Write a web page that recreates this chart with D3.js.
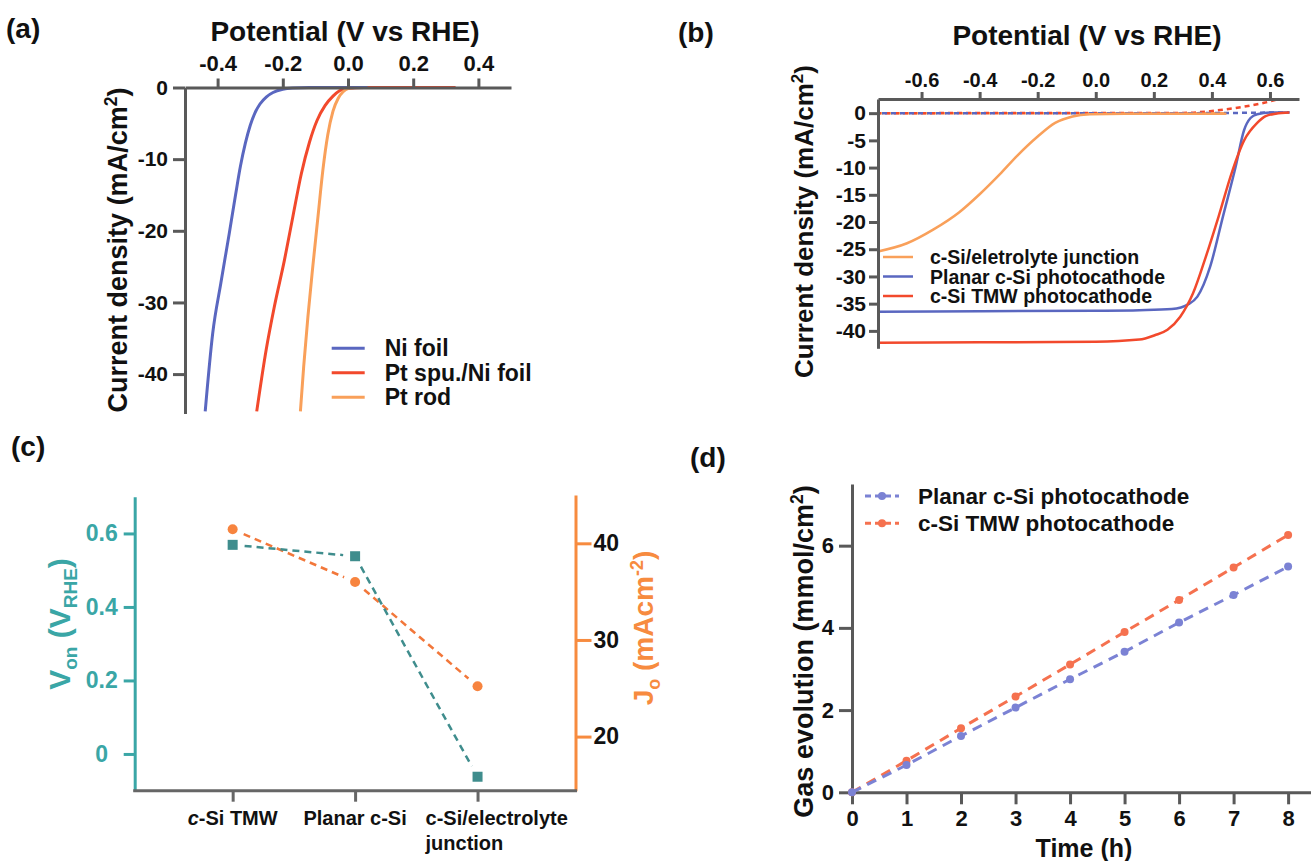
<!DOCTYPE html>
<html>
<head>
<meta charset="utf-8">
<script src="https://cdn.jsdelivr.net/npm/d3@7"></script>
<style>
  body { margin: 0; background: #fff; }
  svg { display: block; }
</style>
</head>
<body>
<div id="chart"></div>
<script>
// ---- data ----
// (a) HER polarisation curves
var niFoilV = [-0.438, -0.415, -0.39, -0.364, -0.345, -0.33, -0.315, -0.3, -0.285, -0.27, -0.25, -0.23, -0.2, -0.17, -0.12, 0.06];
var niFoilJ = [-45.2, -34.3, -27.3, -20.3, -15, -11, -7.8, -5.3, -3.5, -2.3, -1.3, -0.7, -0.25, -0.08, 0, 0];
var ptSpuV = [-0.28, -0.251, -0.226, -0.195, -0.169, -0.143, -0.118, -0.095, -0.07, -0.046, -0.026, 0.0, 0.05, 0.33];
var ptSpuJ = [-45.2, -36.6, -30.6, -24.1, -18, -12, -7.6, -4.6, -2.5, -1.2, -0.45, -0.1, 0, 0];
var ptRodV = [-0.146, -0.136, -0.123, -0.108, -0.092, -0.077, -0.062, -0.046, -0.03, -0.015, 0.0, 0.02];
var ptRodJ = [-45.2, -39, -32, -25, -18, -11.5, -6.6, -3.3, -1.5, -0.6, -0.15, 0];
var aTicksX = [-0.4, -0.2, 0, 0.2, 0.4];
var aTicksY = [0, -10, -20, -30, -40];
var aLegend = ["Ni foil", "Pt spu./Ni foil", "Pt rod"];

// (b) photocathode J-V, light (solid) and dark (dashed)
var junctionV = [-0.75, -0.65, -0.56, -0.47, -0.40, -0.33, -0.27, -0.2, -0.14, -0.08, -0.02, 0.1, 0.45];
var junctionJ = [-25.4, -23.9, -21.4, -18.2, -14.9, -11.2, -7.8, -4.3, -1.8, -0.6, -0.2, -0.1, -0.1];
var planarV = [-0.75, -0.4, 0.0, 0.15, 0.262, 0.321, 0.35, 0.394, 0.438, 0.482, 0.511, 0.533, 0.556, 0.6, 0.667];
var planarJ = [-36.5, -36.4, -36.3, -36.2, -36.0, -35.05, -33.7, -28.2, -19.0, -9.8, -3.1, -0.9, -0.2, 0.1, 0.1];
var tmwV = [-0.75, -0.4, 0.0, 0.15, 0.203, 0.247, 0.291, 0.335, 0.379, 0.423, 0.468, 0.511, 0.556, 0.585, 0.62, 0.667];
var tmwJ = [-42.2, -42.1, -42.0, -41.6, -40.8, -39.8, -37.4, -33.1, -26.4, -19.0, -11.0, -5.0, -1.8, -0.55, -0.1, 0.1];
var darkJunctionV = [-0.75, 0.45];
var darkJunctionJ = [0, 0];
var darkPlanarV = [-0.75, 0.3, 0.667];
var darkPlanarJ = [0, 0, 0.15];
var darkTmwV = [-0.75, 0.3, 0.4, 0.5, 0.58, 0.625];
var darkTmwJ = [0, 0.05, 0.4, 1.1, 1.9, 2.5];
var bTicksX = [-0.6, -0.4, -0.2, 0, 0.2, 0.4, 0.6];
var bTicksY = [0, -5, -10, -15, -20, -25, -30, -35, -40];
var bLegend = ["c-Si/eletrolyte junction", "Planar c-Si photocathode", "c-Si TMW photocathode"];

// (c) onset potential and saturation current
var cCats = ["c-Si TMW", "Planar c-Si", "c-Si/electrolyte junction"];
var vOn = [0.569, 0.538, -0.062];
var jO = [41.45, 36.0, 25.2];
var cTicksLeft = [0, 0.2, 0.4, 0.6];
var cTicksRight = [20, 30, 40];

// (d) gas evolution
var timeH = [0, 1, 2, 3, 4, 5, 6, 7, 8];
var planarGas = [0, 0.664, 1.37, 2.06, 2.75, 3.42, 4.13, 4.80, 5.49];
var tmwGas = [0, 0.77, 1.56, 2.33, 3.11, 3.90, 4.68, 5.47, 6.26];
var dTicksY = [0, 2, 4, 6];
var dLegend = ["Planar c-Si photocathode", "c-Si TMW photocathode"];

// ---- drawing ----
var FONT = "'Liberation Sans', Arial, Helvetica, sans-serif";
var AXIS = "#595959";
var BLUE = "#5a67c0", RED = "#f2492c", ORANGE = "#f9a05a";
var TEAL = "#3aa6a6", TEAL_DARK = "#3f8d8d", CORANGE = "#f78b3f";

var svg = d3.select("#chart").append("svg")
    .attr("width", 1311)
    .attr("height", 861)
    .style("font-family", FONT)
    .style("font-weight", "bold");

svg.append("rect").attr("width", 1311).attr("height", 861).attr("fill", "#fff");

function fmtMinus(f) {
    return function(d) { return f(d).replace("\u2212", "-"); };
}

function styleAxis(g, color, size) {
    g.attr("font-family", FONT).attr("font-weight", "bold").attr("font-size", size)
        .style("color", color);
    g.selectAll(".domain").attr("stroke-width", 3);
    g.selectAll(".tick line").attr("stroke-width", 3);
    return g;
}

function zip(a, b) { return a.map(function(v, i) { return [v, b[i]]; }); }

function label(x, y, txt, size, anchor) {
    return svg.append("text").attr("x", x).attr("y", y)
        .attr("font-size", size).attr("text-anchor", anchor || "start")
        .attr("fill", "#111").text(txt);
}

// unit label "(mA/cm2)"-type with superscript
function rotLabel(x, y, pre, sup, post, size) {
    var t = svg.append("text")
        .attr("transform", "translate(" + x + "," + y + ") rotate(-90)")
        .attr("text-anchor", "middle").attr("font-size", size).attr("fill", "#111");
    t.append("tspan").text(pre);
    t.append("tspan").attr("dy", -size * 0.38).attr("font-size", size * 0.65).text(sup);
    t.append("tspan").attr("dy", size * 0.38).text(post);
    return t;
}

// ===== panel (a) =====
var xA = d3.scaleLinear().domain([-0.5, 0.5]).range([185, 511]);
var yA = d3.scaleLinear().domain([-45.5, 0]).range([413.5, 87.5]);

svg.append("clipPath").attr("id", "clipA").append("rect")
    .attr("x", 185).attr("y", 80).attr("width", 326).attr("height", 333.5);

var lineA = d3.line().x(function(d) { return xA(d[0]); }).y(function(d) { return yA(d[1]); })
    .curve(d3.curveMonotoneX);

var aSeries = [
    { v: ptSpuV, j: ptSpuJ, c: RED },
    { v: ptRodV, j: ptRodJ, c: ORANGE },
    { v: niFoilV, j: niFoilJ, c: BLUE }
];
svg.append("g").attr("clip-path", "url(#clipA)")
    .selectAll("path").data(aSeries).enter().append("path")
    .attr("d", function(s) { return lineA(zip(s.v, s.j)); })
    .attr("fill", "none").attr("stroke", function(s) { return s.c; }).attr("stroke-width", 3);

styleAxis(svg.append("g").attr("transform", "translate(0,87.5)")
    .call(d3.axisTop(xA).tickValues(aTicksX).tickSize(9).tickPadding(8).tickSizeOuter(0)
        .tickFormat(fmtMinus(d3.format(".1f")))), AXIS, 22);
styleAxis(svg.append("g").attr("transform", "translate(185,0)")
    .call(d3.axisLeft(yA).tickValues(aTicksY).tickSize(12).tickPadding(5).tickSizeOuter(0)
        .tickFormat(function(d) { return String(d); })), AXIS, 21);
svg.selectAll("g .tick text").attr("fill", "#111");

label(345, 41, "Potential (V vs RHE)", 28, "middle");
rotLabel(127, 250, "Current density (mA/cm", "2", ")", 27);
label(6, 38, "(a)", 28);

var aColors = [BLUE, RED, ORANGE];
var legA = svg.append("g").selectAll("g").data(aLegend).enter().append("g")
    .attr("transform", function(d, i) { return "translate(331.7," + (348.3 + i * 24.5) + ")"; });
legA.append("line").attr("x1", 0).attr("x2", 33).attr("stroke-width", 3)
    .attr("stroke", function(d, i) { return aColors[i]; });
legA.append("text").attr("x", 53).attr("y", 8).attr("font-size", 23).attr("fill", "#111")
    .text(function(d) { return d; });

// ===== panel (b) =====
var xB = d3.scaleLinear().domain([-0.75, 0.7]).range([878, 1299]);
var yB = d3.scaleLinear().domain([-43.2, 2.6]).range([348.3, 99]);

var lineB = d3.line().x(function(d) { return xB(d[0]); }).y(function(d) { return yB(d[1]); })
    .curve(d3.curveMonotoneX);

var bDark = [
    { v: darkJunctionV, j: darkJunctionJ, c: ORANGE, off: 0 },
    { v: darkTmwV, j: darkTmwJ, c: RED, off: 2 },
    { v: darkPlanarV, j: darkPlanarJ, c: BLUE, off: 5 }
];
svg.append("g").selectAll("path").data(bDark).enter().append("path")
    .attr("d", function(s) { return lineB(zip(s.v, s.j)); })
    .attr("fill", "none").attr("stroke", function(s) { return s.c; })
    .attr("stroke-width", 2.5).attr("stroke-dasharray", "5,4")
    .attr("stroke-dashoffset", function(s) { return s.off; });

var bLight = [
    { v: junctionV, j: junctionJ, c: ORANGE },
    { v: planarV, j: planarJ, c: BLUE },
    { v: tmwV, j: tmwJ, c: RED }
];
svg.append("g").selectAll("path").data(bLight).enter().append("path")
    .attr("d", function(s) { return lineB(zip(s.v, s.j)); })
    .attr("fill", "none").attr("stroke", function(s) { return s.c; }).attr("stroke-width", 2.5);

styleAxis(svg.append("g").attr("transform", "translate(0,99)")
    .call(d3.axisTop(xB).tickValues(bTicksX).tickSize(7).tickPadding(5).tickSizeOuter(0)
        .tickFormat(fmtMinus(d3.format(".1f")))), AXIS, 20);
styleAxis(svg.append("g").attr("transform", "translate(878,0)")
    .call(d3.axisLeft(yB).tickValues(bTicksY).tickSize(9).tickPadding(3).tickSizeOuter(0)
        .tickFormat(function(d) { return String(d); })), AXIS, 21);
svg.selectAll("g .tick text").attr("fill", "#111");

label(1087, 45, "Potential (V vs RHE)", 28, "middle");
rotLabel(813, 221.5, "Current density (mA/cm", "2", ")", 26);
label(678, 42, "(b)", 28);

var bColors = [ORANGE, BLUE, RED];
var legB = svg.append("g").selectAll("g").data(bLegend).enter().append("g")
    .attr("transform", function(d, i) { return "translate(883," + (257 + i * 19.5) + ")"; });
legB.append("line").attr("x1", 0).attr("x2", 30).attr("stroke-width", 2.5)
    .attr("stroke", function(d, i) { return bColors[i]; });
legB.append("text").attr("x", 47).attr("y", 7).attr("font-size", 19.5).attr("fill", "#111")
    .text(function(d) { return d; });

// ===== panel (c) =====
var xC = d3.scalePoint().domain(cCats).range([134.7, 575.5]).padding(0.8);
var yC = d3.scaleLinear().domain([-0.1, 0.7]).range([790.7, 496.7]);
var yC2 = d3.scaleLinear().domain([14.4, 45]).range([790.7, 495]);

var gl = styleAxis(svg.append("g").attr("transform", "translate(134.7,0)")
    .call(d3.axisLeft(yC).tickValues(cTicksLeft).tickSize(11).tickSizeOuter(0)
        .tickFormat(function(d) { return d === 0 ? "0" : d3.format(".1f")(d); })), TEAL, 23);
gl.selectAll(".tick text").attr("text-anchor", "middle").attr("x", -33);

styleAxis(svg.append("g").attr("transform", "translate(575.5,0)")
    .call(d3.axisRight(yC2).tickValues(cTicksRight).tickSize(16).tickPadding(2).tickSizeOuter(0)
        .tickFormat(function(d) { return String(d); })), CORANGE, 23);

var gb = styleAxis(svg.append("g").attr("transform", "translate(0,790.7)")
    .call(d3.axisBottom(xC).tickSize(11).tickSizeOuter(0).tickFormat("")), "#666", 20);
gb.select(".domain").attr("d", "M133.2,0H577");

// category labels
var c0 = svg.append("text").attr("x", xC(cCats[0])).attr("y", 825).attr("text-anchor", "middle")
    .attr("font-size", 20).attr("fill", "#111");
c0.append("tspan").attr("font-style", "italic").text("c");
c0.append("tspan").text("-Si TMW");
label(xC(cCats[1]), 825, cCats[1], 20, "middle");
label(xC(cCats[2]) - 52, 825, "c-Si/electrolyte", 20);
label(xC(cCats[2]) - 52, 850, "junction", 20);

// dashed connectors that stop short of the markers
function gapSegments(pts, gap) {
    var segs = [];
    for (var i = 0; i < pts.length - 1; i++) {
        var a = pts[i], b = pts[i + 1];
        var dx = b[0] - a[0], dy = b[1] - a[1], L = Math.sqrt(dx * dx + dy * dy);
        var ux = dx / L, uy = dy / L;
        segs.push([a[0] + ux * gap, a[1] + uy * gap, b[0] - ux * gap, b[1] - uy * gap]);
    }
    return segs;
}
var vPts = cCats.map(function(c, i) { return [xC(c), yC(vOn[i])]; });
var jPts = cCats.map(function(c, i) { return [xC(c), yC2(jO[i])]; });

svg.append("g").selectAll("line").data(gapSegments(jPts, 12)).enter().append("line")
    .attr("x1", function(s) { return s[0]; }).attr("y1", function(s) { return s[1]; })
    .attr("x2", function(s) { return s[2]; }).attr("y2", function(s) { return s[3]; })
    .attr("stroke", "#f2773a").attr("stroke-width", 2.5).attr("stroke-dasharray", "7,5");
svg.append("g").selectAll("line").data(gapSegments(vPts, 12)).enter().append("line")
    .attr("x1", function(s) { return s[0]; }).attr("y1", function(s) { return s[1]; })
    .attr("x2", function(s) { return s[2]; }).attr("y2", function(s) { return s[3]; })
    .attr("stroke", TEAL_DARK).attr("stroke-width", 2.5).attr("stroke-dasharray", "7,5");

svg.append("g").selectAll("rect").data(vPts).enter().append("rect")
    .attr("x", function(p) { return p[0] - 5; }).attr("y", function(p) { return p[1] - 5; })
    .attr("width", 10).attr("height", 10).attr("fill", TEAL_DARK);
svg.append("g").selectAll("circle").data(jPts).enter().append("circle")
    .attr("cx", function(p) { return p[0]; }).attr("cy", function(p) { return p[1]; })
    .attr("r", 5).attr("fill", "#f7843f");

var vl = svg.append("text").attr("transform", "translate(70,624) rotate(-90)")
    .attr("text-anchor", "middle").attr("font-size", 30).attr("fill", TEAL);
vl.append("tspan").text("V");
vl.append("tspan").attr("dy", 7).attr("font-size", 19).text("on");
vl.append("tspan").attr("dy", -7).text(" (V");
vl.append("tspan").attr("dy", 7).attr("font-size", 19).text("RHE");
vl.append("tspan").attr("dy", -7).text(")");

var jl = svg.append("text").attr("transform", "translate(653,628) rotate(-90)")
    .attr("text-anchor", "middle").attr("font-size", 28).attr("fill", CORANGE);
jl.append("tspan").text("J");
jl.append("tspan").attr("dy", 7).attr("font-size", 18).text("o");
jl.append("tspan").attr("dy", -7).text(" (mAcm");
jl.append("tspan").attr("dy", -10).attr("font-size", 18).text("-2");
jl.append("tspan").attr("dy", 10).text(")");

label(11, 456, "(c)", 28);

// ===== panel (d) =====
var xD = d3.scaleLinear().domain([0, 8.42]).range([852, 1311]);
var yD = d3.scaleLinear().domain([0, 7.5]).range([792.3, 484]);

styleAxis(svg.append("g").attr("transform", "translate(0,792.3)")
    .call(d3.axisBottom(xD).tickValues(timeH).tickSize(12).tickPadding(6).tickSizeOuter(0)), AXIS, 22);
styleAxis(svg.append("g").attr("transform", "translate(852,0)")
    .call(d3.axisLeft(yD).tickValues(dTicksY).tickSize(13).tickPadding(5).tickSizeOuter(0)), AXIS, 22);
svg.selectAll("g .tick text").attr("fill", "#111");
// restore coloured tick text of panel (c)
gl.selectAll(".tick text").attr("fill", TEAL);

var lineD = d3.line().x(function(d) { return xD(d[0]); }).y(function(d) { return yD(d[1]); });
var dSeries = [
    { y: tmwGas, c: "#f5714f" },
    { y: planarGas, c: "#7b82d4" }
];
var gd = svg.append("g").selectAll("g").data(dSeries).enter().append("g");
gd.append("path").attr("d", function(s) { return lineD(zip(timeH, s.y)); })
    .attr("fill", "none").attr("stroke", function(s) { return s.c; })
    .attr("stroke-width", 3).attr("stroke-dasharray", "10,7");
gd.selectAll("circle").data(function(s) { return s.y.map(function(v, i) { return [timeH[i], v, s.c]; }); })
    .enter().append("circle")
    .attr("cx", function(d) { return xD(d[0]); }).attr("cy", function(d) { return yD(d[1]); })
    .attr("r", 4).attr("fill", function(d) { return d[2]; });

label(1084, 857, "Time (h)", 25, "middle");
rotLabel(813, 651.5, "Gas evolution (mmol/cm", "2", ")", 27);
label(690, 467, "(d)", 28);

var dColors = ["#7b82d4", "#f5714f"];
var legD = svg.append("g").selectAll("g").data(dLegend).enter().append("g")
    .attr("transform", function(d, i) { return "translate(865," + (496 + i * 27.3) + ")"; });
legD.append("line").attr("x1", 0).attr("x2", 34).attr("stroke-width", 3).attr("stroke-dasharray", "6,4")
    .attr("stroke", function(d, i) { return dColors[i]; });
legD.append("circle").attr("cx", 17).attr("r", 4).attr("fill", function(d, i) { return dColors[i]; });
legD.append("text").attr("x", 53).attr("y", 8).attr("font-size", 22.5).attr("fill", "#111")
    .text(function(d) { return d; });
</script>
</body>
</html>
